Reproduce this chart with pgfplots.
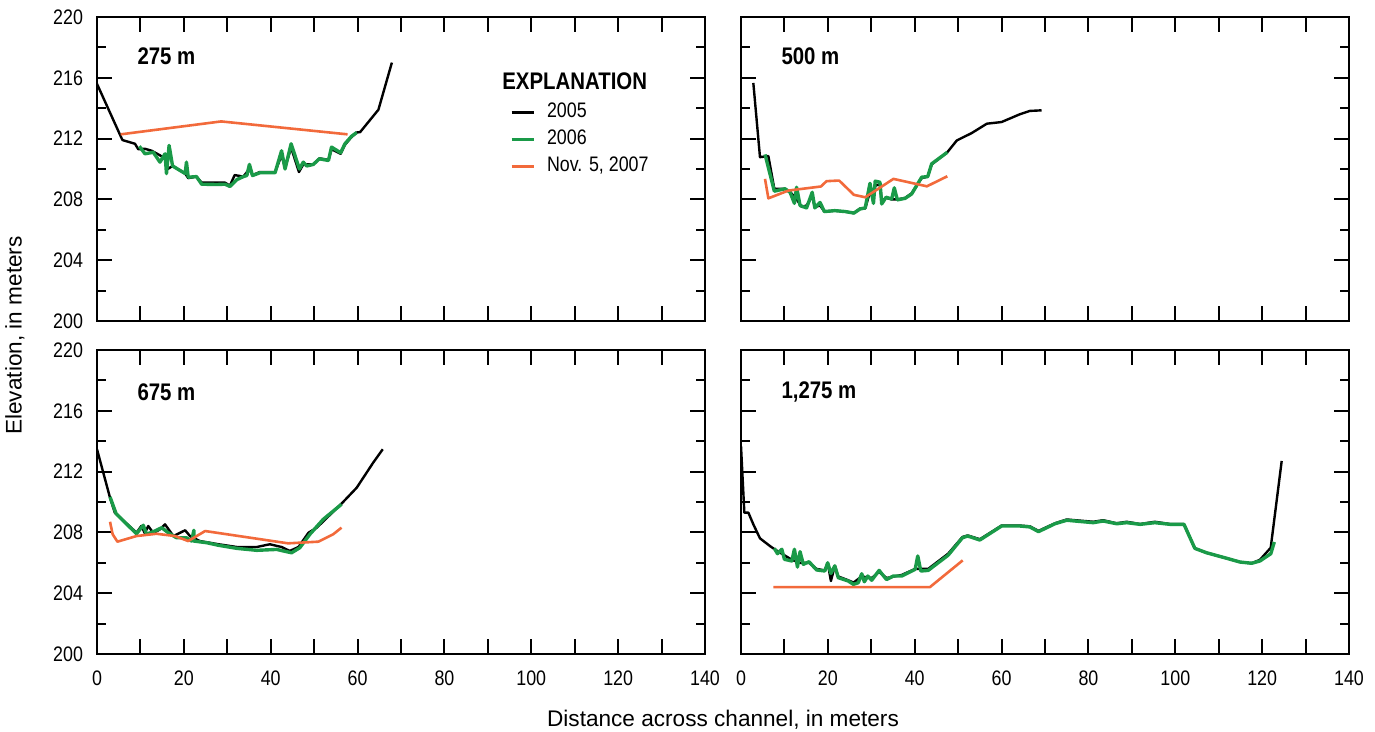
\documentclass[border=0pt]{standalone}
\usepackage{fontspec}
\setmainfont{Liberation Sans}[FakeStretch=0.85]
\newfontfamily\labelfont{Liberation Sans}
\usepackage{pgfplots}
\pgfplotsset{compat=1.18}
\usepgfplotslibrary{groupplots}
\usetikzlibrary{calc}
\definecolor{g06}{HTML}{1A9A48}
\definecolor{o07}{HTML}{F26A3B}

\begin{document}
\begin{tikzpicture}
\tikzset{
  y2005/.style={black,line width=1.2pt,line join=round},
  y2006/.style={g06,line width=1.7pt,line join=round},
  y2007/.style={o07,line width=1.3pt,line join=round},
  panel/.style={anchor=west,inner sep=0pt,font=\fontsize{12}{14}\selectfont\bfseries},
}
\begin{groupplot}[
  group style={group size=2 by 2,horizontal sep=18pt,vertical sep=14.5pt,
    xticklabels at=edge bottom,yticklabels at=edge left},
  width=304pt,height=152pt,scale only axis,
  xmin=0,xmax=140,ymin=200,ymax=220,
  xtick={0,10,...,140},xticklabels={0,,20,,40,,60,,80,,100,,120,,140},
  ytick={200,204,...,220},minor ytick={202,206,...,218},
  tick align=inside,major tick length=7.5pt,minor tick length=4.5pt,
  every tick/.style={black,line width=1pt},
  axis line style={line width=1pt},
  tick label style={font=\fontsize{10.5}{12}\selectfont},
  /pgf/number format/assume math mode=true,
  /pgf/number format/1000 sep={},
  xticklabel shift=5pt,yticklabel shift=3.5pt,
]
% ---- 275 m
\nextgroupplot[
  legend style={at={(0.679,0.721)},anchor=north west,draw=none,fill=none,
    inner sep=0pt,row sep=3.5pt,font=\fontsize{10.5}{12}\selectfont,
    nodes={inner sep=0pt,text height=7.5pt,text depth=2.5pt},
    /tikz/every odd column/.append style={column sep=6pt}},
  legend cell align=left,
  legend image code/.code={\draw[#1,line width=1.4pt] (0pt,0pt) -- (11pt,0pt);},
]
\addplot[y2005] coordinates {(0,215.6)(5.7,212.0)(5.9,211.9)(8.75,211.66)(9.5,211.3)(11.05,211.33)(12.6,211.2)(14.5,210.9)(15.6,210.7)(16.3,210.0)(17.4,210.2)(20.3,209.7)(21.0,209.4)(22.9,209.5)(24.1,209.1)(27.6,209.1)(29.5,209.1)(30.6,208.9)(31.7,209.6)(33.7,209.5)(35.1,210.0)(35.8,209.6)(37.5,209.8)(41.0,209.8)(42.5,210.9)(43.3,210.1)(44.7,211.4)(46.5,209.8)(47.5,210.3)(49.8,210.3)(51.2,210.7)(53.3,210.6)(54.0,211.3)(56.1,211.0)(57.1,211.6)(58.6,212.1)(59.8,212.4)(60.6,212.43)(64.8,213.9)(67.9,217.0)};
\addlegendentry{2005}
\addplot[y2006] coordinates {(9.75,211.5)(11.05,211.0)(12.96,211.1)(14.5,210.45)(15.66,211.0)(16.0,209.7)(16.6,211.55)(17.4,210.2)(20.3,209.7)(20.6,210.45)(21.0,209.46)(22.9,209.5)(24.1,209.0)(27.6,208.98)(29.5,209.0)(30.6,208.85)(32.2,209.3)(33.7,209.5)(34.5,209.57)(35.1,210.3)(35.8,209.57)(37.5,209.75)(41.0,209.75)(42.5,211.2)(43.3,210.0)(44.7,211.66)(46.6,210.0)(47.5,210.45)(48.3,210.2)(49.8,210.3)(51.2,210.67)(53.3,210.56)(54.0,211.44)(56.1,211.07)(57.1,211.66)(58.6,212.15)(59.8,212.4)};
\addlegendentry{2006}
\addplot[y2007] coordinates {(5.45,212.28)(28.6,213.13)(57.7,212.28)};
\addlegendentry{Nov. 5, 2007}
\node[panel] at (rel axis cs:0.066,0.871) {275 m};
\node[panel] at (rel axis cs:0.666,0.789) {EXPLANATION};
% ---- 500 m
\nextgroupplot
\addplot[y2005] coordinates {(2.84,215.66)(4.37,210.78)(6.3,210.85)(7.67,208.7)(10.1,208.7)(11.3,208.5)(12.8,208.0)(14.0,207.5)(15.1,207.6)(16.4,208.2)(17.0,207.5)(18.2,207.6)(19.2,207.2)(21.6,207.26)(24.0,207.2)(26.0,207.1)(27.4,207.4)(28.6,207.4)(29.7,208.5)(30.5,208.0)(30.9,208.9)(32.0,209.0)(32.4,207.9)(33.4,208.1)(34.7,208.0)(36.0,208.0)(37.8,208.1)(39.3,208.4)(41.6,209.4)(43.0,209.5)(43.9,210.3)(47.5,211.1)(49.7,211.88)(53.1,212.36)(56.6,212.98)(60.0,213.09)(64.2,213.6)(66.5,213.82)(69.2,213.86)};
\addplot[y2006] coordinates {(5.53,210.96)(6.3,210.1)(7.67,208.54)(10.1,208.7)(11.3,208.47)(12.3,207.74)(12.8,208.8)(13.6,207.6)(15.1,207.44)(16.4,208.47)(17.0,207.44)(18.2,207.8)(19.2,207.2)(21.6,207.26)(24.0,207.2)(26.0,207.1)(27.4,207.37)(28.6,207.44)(29.7,209.06)(30.5,207.74)(30.9,209.2)(32.0,209.13)(32.4,207.7)(33.4,208.14)(34.7,208.03)(35.3,208.76)(36.0,207.97)(37.8,208.07)(39.3,208.36)(41.6,209.46)(43.0,209.5)(43.9,210.34)(47.5,211.1)};
\addplot[y2007] coordinates {(5.53,209.35)(6.3,208.07)(10.9,208.58)(18.4,208.85)(19.7,209.2)(22.6,209.24)(26.0,208.3)(28.6,208.14)(35.1,209.35)(42.8,208.86)(47.5,209.52)};
\node[panel] at (rel axis cs:0.066,0.871) {500 m};
% ---- 675 m
\nextgroupplot
\addplot[y2005] coordinates {(0,213.47)(3.0,210.28)(4.1,209.3)(9.1,207.98)(10.2,208.42)(11.0,207.95)(11.8,208.42)(13.0,207.95)(14.5,208.2)(15.66,208.53)(17.6,207.76)(20.3,208.14)(21.4,207.76)(23.7,207.43)(28.0,207.22)(32.2,207.04)(36.8,207.04)(39.8,207.22)(42.5,207.04)(44.4,206.78)(46.4,207.04)(48.7,207.98)(50.6,208.31)(56.3,209.89)(59.8,210.94)(63.6,212.59)(65.8,213.47)};
\addplot[y2006] coordinates {(3.0,210.33)(4.4,209.23)(9.1,207.91)(10.66,208.47)(11.4,207.88)(13.4,208.1)(14.9,208.31)(16.4,207.98)(18.3,207.65)(20.6,207.65)(21.8,207.43)(22.3,208.14)(22.3,207.43)(25.3,207.32)(28.0,207.15)(32.2,206.95)(36.8,206.82)(41.4,206.88)(42.9,206.78)(44.8,206.66)(46.7,206.99)(49.0,207.87)(52.1,208.86)(56.3,209.85)};
\addplot[y2007] coordinates {(3.0,208.7)(3.6,207.88)(4.7,207.39)(9.1,207.76)(13.7,207.91)(17.96,207.76)(21.0,207.43)(24.9,208.09)(44.0,207.28)(50.96,207.39)(54.4,207.88)(56.3,208.31)};
\node[panel] at (rel axis cs:0.066,0.862) {675 m};
% ---- 1,275 m
\nextgroupplot
\addplot[y2005] coordinates {(0,213.68)(0.77,209.3)(1.7,209.3)(2.84,208.53)(4.37,207.61)(6.68,207.1)(7.7,206.9)(9.4,206.6)(11.7,206.2)(13.6,206.0)(15.66,206.0)(17.4,205.6)(19.3,205.5)(19.96,206.0)(20.7,204.8)(21.6,205.8)(22.4,205.1)(24.7,204.85)(25.9,204.7)(27.8,205.1)(30.1,205.0)(31.8,205.4)(33.5,205.0)(37.0,205.2)(40.1,205.6)(41.4,205.6)(43.1,205.6)(47.7,206.6)(51.0,207.7)(52.2,207.8)(55.0,207.55)(60.0,208.45)(64.2,208.45)(66.5,208.4)(68.5,208.1)(72.3,208.6)(75.0,208.85)(81.1,208.7)(83.4,208.8)(86.5,208.6)(88.8,208.7)(91.9,208.55)(95.3,208.7)(98.8,208.55)(102.0,208.55)(104.5,206.95)(107.2,206.66)(111.8,206.3)(114.9,206.05)(117.6,205.97)(119.5,206.2)(121.97,206.99)(124.5,212.7)};
\addplot[y2006] coordinates {(7.67,206.95)(8.4,206.6)(9.4,206.89)(10.0,206.23)(11.7,206.12)(12.3,206.89)(13.0,205.72)(13.6,206.73)(14.35,205.9)(15.66,206.07)(17.4,205.53)(19.3,205.46)(19.96,206.0)(20.7,205.3)(21.6,205.8)(22.4,205.02)(24.7,204.8)(25.9,204.58)(27.0,204.69)(27.8,205.28)(28.4,204.75)(29.2,205.13)(30.1,204.85)(31.8,205.5)(33.5,204.9)(35.1,205.13)(37.0,205.13)(40.1,205.57)(40.7,206.45)(41.4,205.46)(43.1,205.5)(47.7,206.5)(51.0,207.65)(52.2,207.76)(55.0,207.5)(60.0,208.42)(64.2,208.42)(66.5,208.36)(68.5,208.05)(72.3,208.57)(75.0,208.8)(81.1,208.64)(83.4,208.75)(86.5,208.57)(88.8,208.64)(91.9,208.53)(95.3,208.64)(98.8,208.53)(102.0,208.53)(104.5,206.95)(107.2,206.66)(111.8,206.3)(114.9,206.05)(117.6,205.97)(119.5,206.12)(122.0,206.6)(122.8,207.37)};
\addplot[y2007] coordinates {(7.44,204.4)(43.5,204.4)(51.05,206.16)};
\node[panel] at (rel axis cs:0.066,0.862) {1,275 m};
\end{groupplot}
% shared axis labels
\node[rotate=90,font=\labelfont\fontsize{11.3}{13}\selectfont] at ($($(group c1r1.north west)!0.5!(group c1r2.south west)$)+(-41pt,0)$) {Elevation, in meters};
\node[font=\labelfont\fontsize{11.3}{13}\selectfont] at ($($(group c1r2.south east)!0.5!(group c2r2.south west)$)+(0,-33pt)$) {Distance across channel, in meters};
\pgfresetboundingbox
\path[use as bounding box] ($(group c1r2.south west)+(-48.5pt,-39pt)$) rectangle ($(group c2r1.north east)+(13pt,8.5pt)$);
\end{tikzpicture}
\end{document}
